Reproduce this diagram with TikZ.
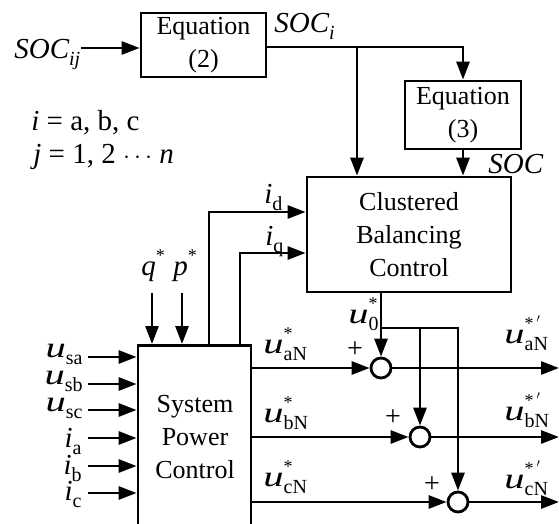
\documentclass[tikz,border=0pt]{standalone}
\usepackage{fontspec}
\setmainfont{Liberation Serif}
\usetikzlibrary{arrows.meta}
\newcommand\uu{\scalebox{1.4}[1]{\itshape u}}
\newcommand\lsb[1]{\raisebox{-7pt}{\fontsize{20}{20}\selectfont #1}}
\newcommand\usp[1]{\makebox[0pt][l]{\raisebox{14pt}{\fontsize{18}{18}\selectfont #1}}}
\begin{document}
\begin{tikzpicture}[x=1pt,y=-1pt,line width=2.8pt,
  blk/.style={draw,rectangle,inner sep=0pt,align=center,font=\fontsize{26}{33}\selectfont},
  arr/.style={-{Triangle[length=18pt,width=13pt]}},
  sumc/.style={draw,circle,minimum size=20pt,inner sep=0pt},
  lbl/.style={inner sep=0pt,font=\fontsize{29}{29}\selectfont},
  plus/.style={inner sep=0pt,font=\fontsize{28}{28}\selectfont}]
\useasboundingbox (0,0) rectangle (559,524);
\clip (0,0) rectangle (559,524);
% blocks
\node[blk,minimum width=125pt,minimum height=64pt] (eq2) at (203.5,45) {Equation\\(2)};
\node[blk,minimum width=116pt,minimum height=68pt] (eq3) at (463,115) {Equation\\(3)};
\node[blk,minimum width=204pt,minimum height=115pt] (cbc) at (409,234.5) {Clustered\\Balancing\\Control};
\node[blk,minimum width=113pt,minimum height=260pt,anchor=north] (spc) at (194.5,344) {};
\node[inner sep=0pt,align=center,font=\fontsize{26}{33}\selectfont] (spct) at (195,437) {System\\Power\\Control};
\node[sumc] (sa) at (381,368) {};
\node[sumc] (sb) at (420,437) {};
\node[sumc] (sc) at (458,502) {};
% coordinates
\coordinate (in0) at (81,48);
\coordinate (j1) at (357,47);
\coordinate (j2) at (463,47);
\coordinate (d0) at (209,344);
\coordinate (d1) at (209,212);
\coordinate (q0) at (240,344);
\coordinate (q1) at (240,253);
\coordinate (qs0) at (152,293);
\coordinate (ps0) at (182,293);
\coordinate (u0b) at (381,328);
\coordinate (bj) at (420,328);
\coordinate (ea) at (559,368);
\coordinate (eb) at (559,437);
\coordinate (ec) at (559,502);
\foreach \n/\y in {1/357,2/384,3/410,4/438,5/466,6/493}{\coordinate (x\n) at (88,\y);}
% connectors
\draw[arr] (in0) -- (eq2.west|-in0);
\draw (eq2.east|-j1) -- (j1);
\draw[arr] (j1) -- (j2) -- (eq3.north);
\draw[arr] (j1) -- (j1|-cbc.north);
\draw[arr] (eq3.south) -- (eq3.south|-cbc.north);
\draw[arr] (d0) -- (d1) -- (cbc.west|-d1);
\draw[arr] (q0) -- (q1) -- (cbc.west|-q1);
\draw[arr] (qs0) -- (qs0|-spc.north);
\draw[arr] (ps0) -- (ps0|-spc.north);
\foreach \n in {1,...,6}{\draw[arr] (x\n) -- (spc.west|-x\n);}
\draw[arr] (spc.east|-sa) -- (sa.west);
\draw[arr] (spc.east|-sb) -- (sb.west);
\draw[arr] (spc.east|-sc) -- (sc.west);
\draw[arr] (sa.east) -- (ea);
\draw[arr] (sb.east) -- (eb);
\draw[arr] (sc.east) -- (ec);
\draw[arr] (cbc.south-|sa) -- (sa.north);
\draw[arr] (u0b) -| (sc.north);
\draw[arr] (bj) -- (sb.north);
% labels
\node[lbl,anchor=base west] (lsocij) at (13,59) {\itshape SOC\lsb{ij}};
\node[lbl,anchor=base west] (lsoci) at (273,33) {\itshape SOC\lsb{i}};
\node[lbl,anchor=base west] (lsoc) at (487,173) {\itshape SOC};
\node[lbl,anchor=base west] (li) at (30,130) {\textit{i\/} = a, b, c};
\node[lbl,anchor=base west] (lj) at (32,163) {\textit{j} = 1, 2 $\cdots$ \textit{n}};
\node[lbl,anchor=base west] (lid) at (263,203) {\textit{i}\lsb{d}};
\node[lbl,anchor=base west] (liq) at (264,245) {\textit{i}\lsb{q}};
\node[lbl,anchor=base west] (lq) at (140,275) {\textit{q}\usp{*}};
\node[lbl,anchor=base west] (lp) at (172,275) {\textit{p}\usp{*}};
\node[lbl,anchor=base east] (lusa) at (84,357) {\uu\lsb{sa}};
\node[lbl,anchor=base east] (lusb) at (84,384) {\uu\lsb{sb}};
\node[lbl,anchor=base east] (lusc) at (84,411) {\uu\lsb{sc}};
\node[lbl,anchor=base east] (lia) at (83,447) {\textit{i}\lsb{a}};
\node[lbl,anchor=base east] (lib) at (83,474) {\textit{i}\lsb{b}};
\node[lbl,anchor=base east] (lic) at (83,500) {\textit{i}\lsb{c}};
\node[lbl,anchor=base west] (luan) at (262,353) {\uu\usp{*}\lsb{aN}};
\node[lbl,anchor=base west] (lubn) at (262,422) {\uu\usp{*}\lsb{bN}};
\node[lbl,anchor=base west] (lucn) at (262,486) {\uu\usp{*}\lsb{cN}};
\node[lbl,anchor=base west] (lu0) at (347,323) {\uu\usp{*}\lsb{0}};
\node[lbl,anchor=base west] (loa) at (503,343) {\uu\usp{*\,$'$}\lsb{aN}};
\node[lbl,anchor=base west] (lob) at (503,420) {\uu\usp{*\,$'$}\lsb{bN}};
\node[lbl,anchor=base west] (loc) at (503,488) {\uu\usp{*\,$'$}\lsb{cN}};
\node[plus] (pa) at (355,350) {+};
\node[plus] (pb) at (393,418) {+};
\node[plus] (pc) at (432,485) {+};
\end{tikzpicture}
\end{document}
